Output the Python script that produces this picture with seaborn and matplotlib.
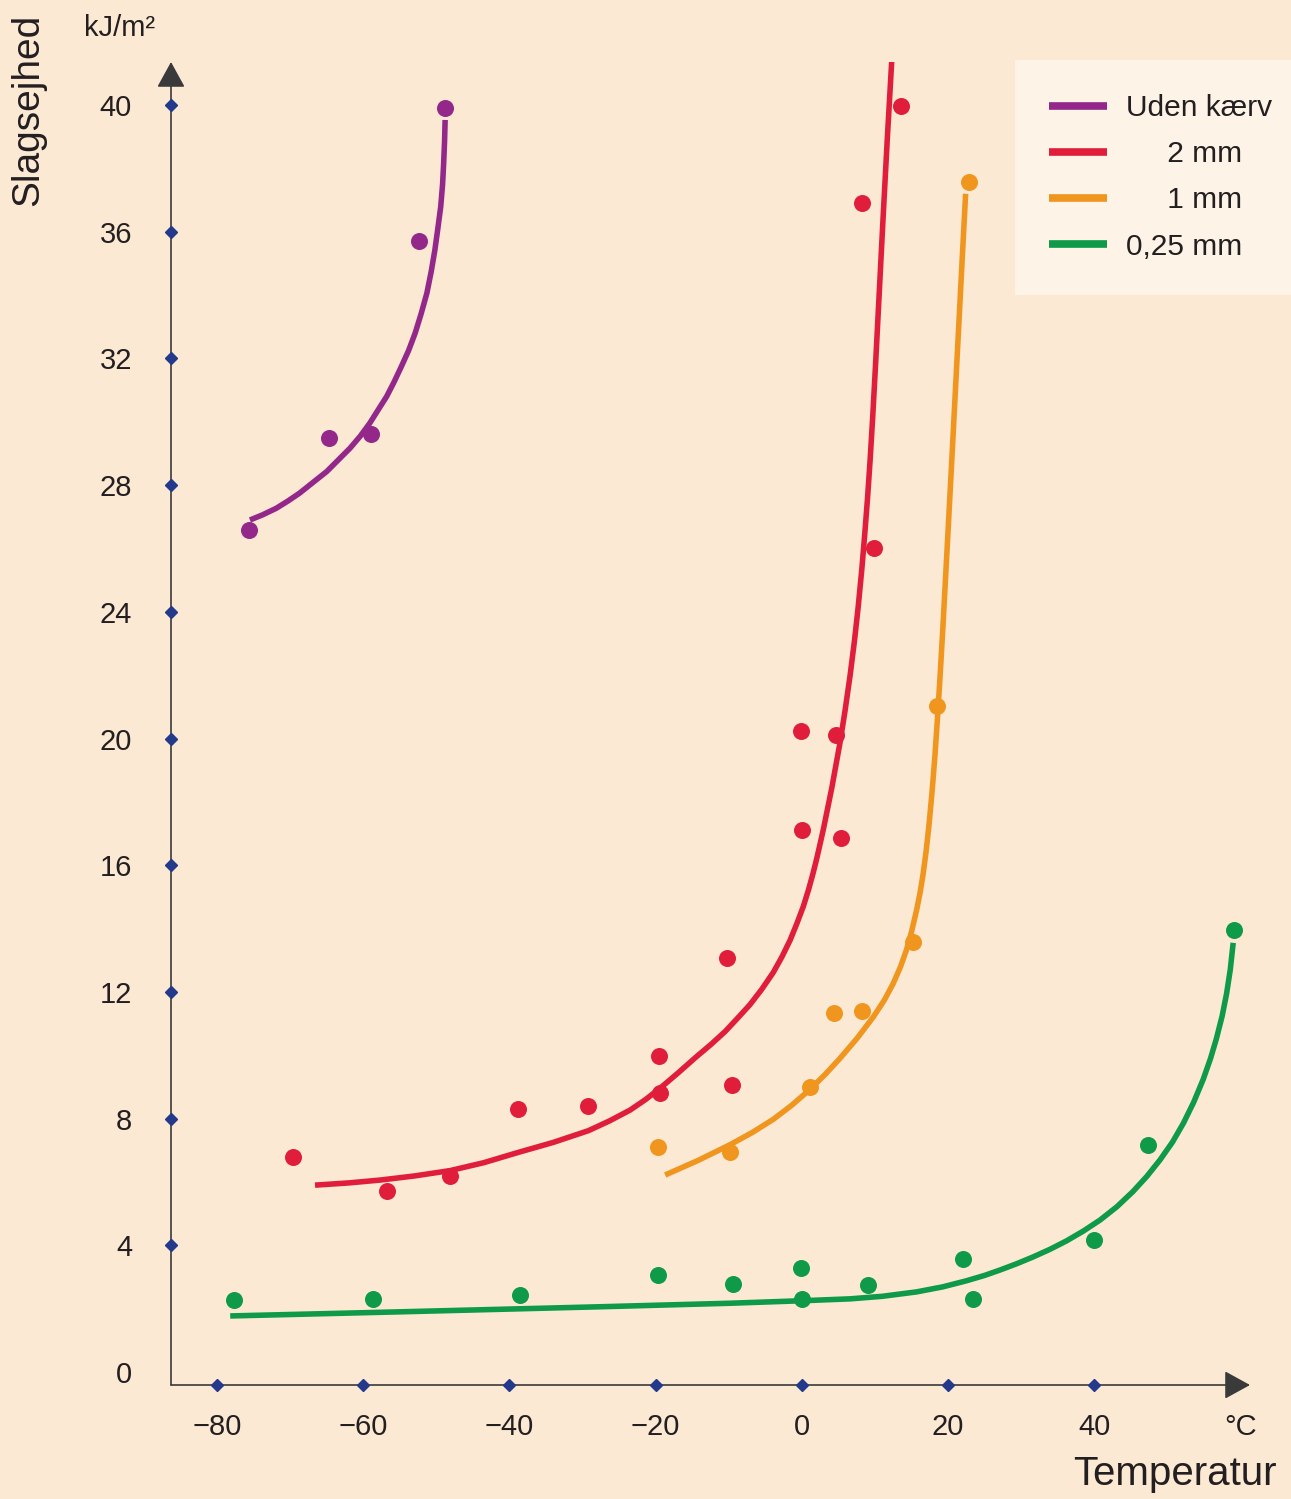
'''Slagsejhed vs temperatur for different notch depths'''

import matplotlib
matplotlib.use('Agg')
import matplotlib.pyplot as plt
import seaborn as sns
from matplotlib.lines import Line2D

# measured points
purple_x = [-75.6, -64.7, -59.0, -52.4, -48.8]
purple_y = [26.6, 29.5, 29.6, 35.7, 39.9]

red_x = [-69.6, -56.8, -48.1, -38.9, -29.2, -19.5, -19.4, -10.2, -9.5,
         -0.1, 4.7, 0.0, 5.4, 9.9, 8.2, 13.5]
red_y = [6.78, 5.72, 6.19, 8.29, 8.40, 9.99, 8.80, 13.08, 9.06,
         20.25, 20.11, 17.11, 16.85, 26.01, 36.90, 39.98]

orange_x = [-19.7, -9.8, 1.1, 4.4, 8.2, 15.2, 18.5, 22.8]
orange_y = [7.11, 6.96, 8.99, 11.33, 11.40, 13.59, 21.03, 37.58]

green_x = [-77.7, -58.6, -38.6, -19.7, -9.4, -0.1, 0.0, 9.1, 22.0, 23.4,
           39.9, 47.4, 59.1]
green_y = [2.27, 2.30, 2.43, 3.06, 2.78, 3.28, 2.30, 2.75, 3.56, 2.30,
           4.17, 7.17, 13.96]

# trend curves
purple_fit_x = [-75.5, -73.8, -71.9, -70.3, -68.7, -66.8, -65.0, -63.4, -61.8,
                -60.4, -59.1, -57.9, -56.8, -55.8, -54.8, -53.8, -52.9, -52.1,
                -51.3, -50.7, -50.2, -49.8, -49.4, -49.15, -49.0, -48.88, -48.8]
purple_fit_y = [26.90, 27.06, 27.27, 27.50, 27.75, 28.10, 28.43, 28.80, 29.17,
                29.55, 29.96, 30.40, 30.80, 31.25, 31.74, 32.25, 32.80, 33.40,
                34.06, 34.75, 35.43, 36.10, 36.80, 37.50, 38.17, 38.85, 39.53]

red_fit_x = [-66.6, -62.0, -57.7, -53.0, -48.1, -43.5, -39.0, -34.0, -29.2,
             -26.3, -23.5, -21.4, -19.4, -16.9, -14.4, -12.4, -10.5, -8.8,
             -7.1, -5.5, -3.9, -2.7, -1.6, -0.7, 0.2, 0.9, 1.5, 2.0, 2.5,
             3.0, 4.1, 5.2, 5.9, 6.6, 7.2, 7.7, 8.2, 8.6, 9.0, 9.35, 9.7,
             10.1, 10.6, 11.1, 11.7, 12.3]
red_fit_y = [5.90, 5.97, 6.06, 6.19, 6.36, 6.61, 6.92, 7.25, 7.62,
             7.93, 8.27, 8.60, 8.96, 9.45, 9.96, 10.35, 10.75, 11.17,
             11.60, 12.08, 12.62, 13.12, 13.64, 14.15, 14.70, 15.22, 15.72,
             16.18, 16.68, 17.20, 18.45, 19.85, 20.87, 22.00, 23.10, 24.15,
             25.35, 26.45, 27.65, 28.85, 30.20, 31.90, 34.15, 36.40, 39.00,
             41.43]

orange_fit_x = [-18.7, -14.2, -9.8, -6.8, -3.9, -1.4, 1.1, 3.2, 5.2, 7.6,
                9.8, 11.3, 12.5, 13.5, 14.3, 15.0, 15.7, 16.2, 16.6, 17.0,
                17.4, 17.8, 18.2, 18.55, 18.9, 19.3, 19.95, 20.6, 21.25,
                21.9, 22.4]
orange_fit_y = [6.22, 6.68, 7.18, 7.56, 7.98, 8.42, 8.92, 9.40, 9.90, 10.55,
                11.22, 11.75, 12.27, 12.80, 13.32, 13.90, 14.59, 15.17, 15.75,
                16.45, 17.30, 18.30, 19.45, 20.65, 21.95, 23.55, 26.35, 29.20,
                32.10, 35.00, 37.20]

green_fit_x = [-78.2, -55.0, -27.6, -10.0, 0.0, 6.6, 11.0, 15.7, 19.3, 22.5,
               25.0, 27.1, 29.4, 31.6, 33.9, 36.2, 38.5, 40.8, 43.1, 45.3,
               47.2, 49.0, 50.7, 52.2, 53.6, 54.9, 55.9, 56.7, 57.5, 58.1,
               58.6, 59.0]
green_fit_y = [1.77, 1.90, 2.06, 2.17, 2.25, 2.31, 2.39, 2.53, 2.69, 2.88,
               3.05, 3.22, 3.42, 3.63, 3.87, 4.14, 4.45, 4.80, 5.22, 5.70,
               6.18, 6.70, 7.26, 7.86, 8.52, 9.24, 9.90, 10.52, 11.25, 11.95,
               12.70, 13.55]

legend_labels = ['Uden kærv', '     2 mm', '     1 mm', '0,25 mm']
x_ticks = [-80, -60, -40, -20, 0, 20, 40, 60]
x_ticklabels = ['\u221280', '\u221260', '\u221240', '\u221220', '0', '20', '40', '°C']
y_ticks = [0, 4, 8, 12, 16, 20, 24, 28, 32, 36, 40]

BG = '#FBE9D4'
LEG_BG = '#FDF3E7'
TXT = '#231f20'
NAVY = '#233a8c'
colors = ['#93288A', '#E01E3C', '#F0961E', '#0E9A48']

sns.set_style('white')
plt.rcParams['font.family'] = ['Liberation Sans', 'DejaVu Sans']

fig = plt.figure(figsize=(12.91, 14.99), dpi=100, facecolor=BG)
ax = fig.add_axes([171/1291, 1 - 1385/1499, 1079/1291, 1323/1499])
ax.set_facecolor(BG)
ax.set_xlim(-86.3, 61.3)
ax.set_ylim(-0.41, 41.36)

series = [(purple_x, purple_y, purple_fit_x, purple_fit_y),
          (red_x, red_y, red_fit_x, red_fit_y),
          (orange_x, orange_y, orange_fit_x, orange_fit_y),
          (green_x, green_y, green_fit_x, green_fit_y)]

for (px, py, fx, fy), c in zip(series, colors):
    sns.lineplot(x=fx, y=fy, ax=ax, color=c, lw=4.0, sort=False,
                 estimator=None, solid_capstyle='butt',
                 solid_joinstyle='round', zorder=2)
    sns.scatterplot(x=px, y=py, ax=ax, color=c, s=150, linewidth=0, zorder=3)

# axes with arrow heads
for s in ax.spines.values():
    s.set_visible(False)
arrow = dict(arrowstyle='-|>,head_length=0.4,head_width=0.22', mutation_scale=40,
             color='#3a3a3a', lw=1.2, shrinkA=0, shrinkB=0)
ax.annotate('', xy=(1, 0), xytext=(0, 0), xycoords='axes fraction',
            arrowprops=arrow)
ax.annotate('', xy=(0, 1), xytext=(0, 0), xycoords='axes fraction',
            arrowprops=arrow)

ax.set_xticks(x_ticks)
ax.set_xticklabels(x_ticklabels)
ax.set_yticks(y_ticks)
ax.tick_params(axis='both', length=0, labelsize=21, colors=TXT)
ax.tick_params(axis='x', pad=20)
ax.tick_params(axis='y', pad=28)
ax.grid(False)

# diamond tick marks on the axes
x0, y0 = ax.get_xlim()[0], ax.get_ylim()[0]
ax.plot(x_ticks[:-1], [y0] * (len(x_ticks) - 1), 'D', ms=6.5, color=NAVY,
        clip_on=False, zorder=4)
ax.plot([x0] * (len(y_ticks) - 1), y_ticks[1:], 'D', ms=6.5, color=NAVY,
        clip_on=False, zorder=4)

fig.text(84/1291, 1 - 28/1499, 'kJ/m²', fontsize=21, color=TXT, ha='left', va='center')
fig.text(28/1291, 1 - 110/1499, 'Slagsejhed', fontsize=28, color=TXT,
         rotation=90, ha='center', va='center')
fig.text(1277/1291, 1 - 1474/1499, 'Temperatur', fontsize=29, color=TXT,
         ha='right', va='center')

handles = [Line2D([0], [0], color=c, lw=5.5, solid_capstyle='butt') for c in colors]
leg = fig.legend(handles, legend_labels, loc='upper right',
                 bbox_to_anchor=(1306/1291, 1 - 60/1499),
                 bbox_transform=fig.transFigure, frameon=True, fancybox=False,
                 facecolor=LEG_BG, edgecolor='none', framealpha=1, fontsize=21.5,
                 handlelength=1.94, handletextpad=0.64, labelspacing=0.61,
                 borderpad=1.14, borderaxespad=0)
for t in leg.get_texts():
    t.set_color(TXT)

plt.savefig('out.png', dpi=100, facecolor=BG)
